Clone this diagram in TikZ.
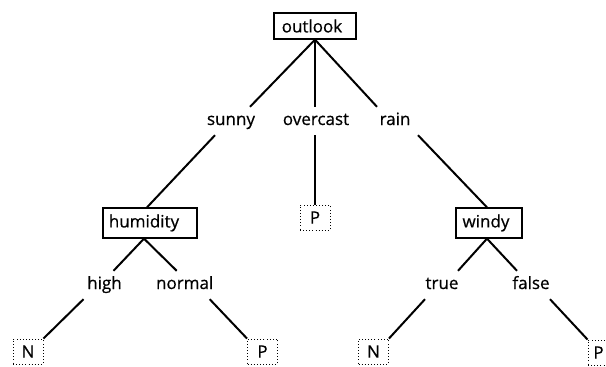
\documentclass[tikz,border=0pt]{standalone}
\usepackage{fontspec}
\setmainfont{Open Sans}[FakeBold=0.6]
\begin{document}
\begin{tikzpicture}[x=1pt,y=-1pt,
  every node/.style={font=\fontsize{17}{20}\selectfont},
  attr/.style={draw, line width=1.3pt, inner sep=0pt},
  lab/.style={inner xsep=0pt, inner ysep=6pt, text height=12pt, text depth=4pt, anchor=base},
  leaf/.style={draw, line width=0.9pt, dash pattern=on 0.9pt off 2.2pt, inner sep=0pt,
               minimum width=30pt, minimum height=25pt},
  edge/.style={line width=2pt}]
\useasboundingbox (0,0) rectangle (606,367);
% boxes
\node[attr, minimum width=82pt, minimum height=26pt] (outlook) at (315,26) {outlook\kern6pt};
\node[attr, minimum width=94pt, minimum height=30pt] (humidity) at (150,223) {humidity\kern12pt};
\node[attr, minimum width=66pt, minimum height=30pt] (windy) at (489,223) {windy\kern6pt};
% leaves
\node[leaf] (pm) at (315,217.5) {P};
\node[leaf] (n1) at (28,351.5) {N};
\node[leaf] (p1) at (262.5,351.5) {P};
\node[leaf] (n2) at (373.5,351.5) {N};
\node[leaf] (p3) at (603,352.5) {P\kern9pt};
% labels
\node[lab] (sunny) at (231,125) {sunny};
\node[lab] (overcast) at (316,125) {overcast};
\node[lab] (rain) at (395,125) {rain};
\node[lab] (high) at (104.5,289) {high};
\node[lab] (normal) at (184.7,289) {normal};
\node[lab] (true) at (442,289) {true};
\node[lab] (false) at (531,289) {false};
% connectors
\draw[edge] (outlook.south) -- ([xshift=19pt]sunny.north);
\draw[edge] (outlook.south) -- (outlook.south |- overcast.north);
\draw[edge] (outlook.south) -- ([xshift=-18pt]rain.north);
\draw[edge] ([xshift=-16pt]sunny.south) -- ([xshift=-3pt]humidity.north);
\draw[edge] (pm.north |- overcast.south) -- (pm.north);
\draw[edge] ([xshift=23pt]rain.south) -- ([xshift=-2pt]windy.north);
\draw[edge] ([xshift=-6pt]humidity.south) -- ([xshift=9pt]high.north);
\draw[edge] ([xshift=-6pt]humidity.south) -- ([xshift=-8pt]normal.north);
\draw[edge] ([xshift=-21pt]high.south) -- (n1.north east);
\draw[edge] ([xshift=25pt]normal.south) -- (p1.north west);
\draw[edge] ([xshift=-2pt]windy.south) -- ([xshift=16pt]true.north);
\draw[edge] ([xshift=-2pt]windy.south) -- ([xshift=-14pt]false.north);
\draw[edge] ([xshift=-17pt]true.south) -- (n2.north east);
\draw[edge] ([xshift=19pt]false.south) -- (p3.north west);
\end{tikzpicture}
\end{document}
